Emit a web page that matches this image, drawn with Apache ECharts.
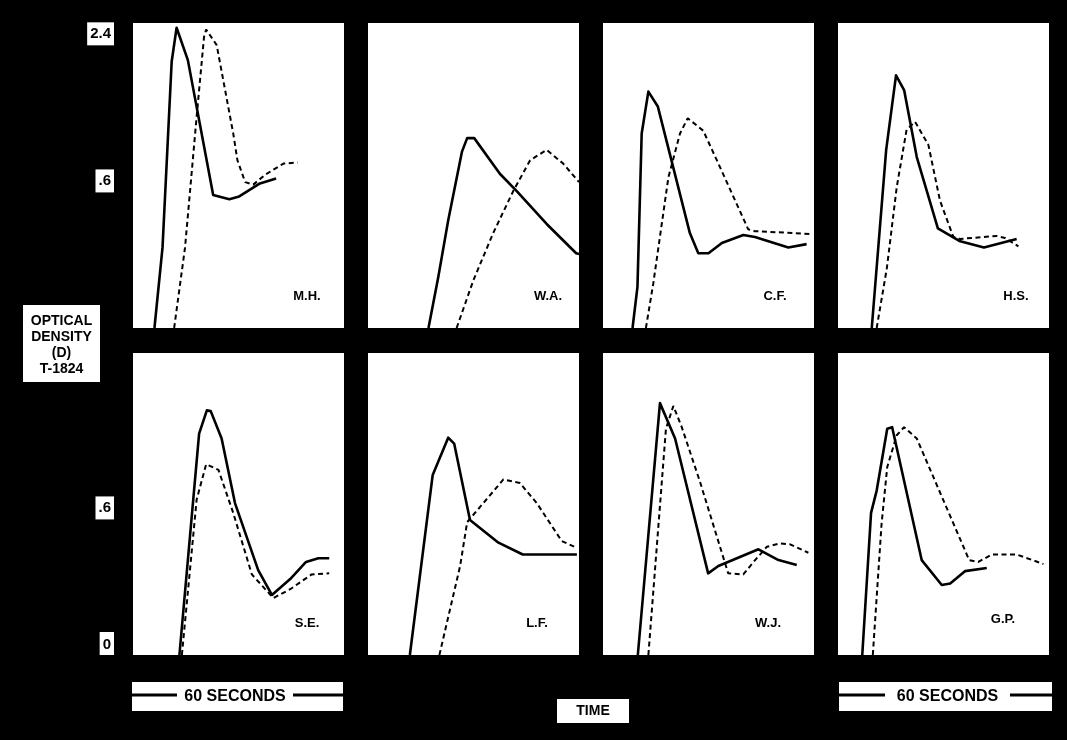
<!DOCTYPE html>
<html><head><meta charset="utf-8">
<script src="https://cdn.jsdelivr.net/npm/echarts@6/dist/echarts.min.js"></script>
<style>html,body{margin:0;padding:0;background:#000}#c{width:1067px;height:740px}</style>
</head><body><div id="c"></div>
<script>
// Time in seconds (each panel spans 60 s), optical density D
const panelNames = ['M.H.', 'W.A.', 'C.F.', 'H.S.', 'S.E.', 'L.F.', 'W.J.', 'G.P.'];

const mhSolid  = [[6.1,0],[8.4,0.18],[11.0,1.97],[12.4,2.50],[15.6,1.99],[22.8,0.49],[27.4,0.46],[30.2,0.48],[36.1,0.58],[40.7,0.62]];
const mhDashed = [[11.7,0],[14.8,0.18],[18.1,1.24],[20.2,2.35],[20.8,2.47],[23.8,2.22],[28.5,1.05],[29.7,0.78],[31.9,0.59],[34.2,0.57],[37.5,0.65],[42.8,0.75],[46.8,0.76]];
const waSolid  = [[17.2,0],[20.0,0.073],[22.8,0.32],[26.7,0.86],[28.2,1.00],[30.2,1.00],[37.5,0.66],[42.3,0.52],[50.8,0.30],[59.2,0.155],[60,0.152]];
const waDashed = [[25.2,0],[30.0,0.064],[35.6,0.25],[41.3,0.52],[46.1,0.78],[50.8,0.88],[55.5,0.75],[60,0.59]];
const cfSolid  = [[8.4,0],[9.8,0.047],[11.0,1.05],[12.9,1.55],[15.6,1.36],[24.7,0.25],[27.1,0.155],[30.0,0.155],[33.8,0.20],[39.9,0.24],[43.2,0.23],[52.7,0.18],[57.9,0.195]];
const cfDashed = [[12.2,0],[14.3,0.055],[18.6,0.63],[21.9,1.05],[24.1,1.22],[28.5,1.08],[32.8,0.75],[41.3,0.27],[43.2,0.26],[59.4,0.245]];
const hsSolid  = [[9.6,0],[13.7,0.88],[16.5,1.77],[18.8,1.57],[22.4,0.81],[28.4,0.275],[34.5,0.21],[41.5,0.18],[50.8,0.22]];
const hsDashed = [[11.0,0],[13.9,0.10],[16.7,0.55],[19.5,1.09],[21.9,1.18],[25.7,0.93],[29.0,0.45],[32.8,0.23],[34.7,0.22],[45.1,0.235],[47.5,0.225],[51.3,0.185]];
const seSolid  = [[13.2,0],[18.8,1.36],[21.0,1.66],[22.1,1.65],[25.2,1.30],[29.0,0.64],[35.6,0.20],[39.5,0.10],[44.7,0.16],[49.2,0.24],[52.7,0.26],[55.8,0.26]];
const seDashed = [[13.9,0],[18.1,0.67],[20.8,1.01],[24.3,0.95],[28.5,0.56],[33.8,0.18],[39.9,0.09],[44.7,0.12],[50.8,0.18],[55.8,0.185]];
const lfSolid  = [[11.9,0],[18.4,0.90],[22.8,1.31],[24.5,1.24],[29.0,0.505],[37.1,0.35],[44.0,0.28],[59.4,0.28]];
const lfDashed = [[20.3,0],[26.2,0.22],[28.2,0.49],[38.5,0.855],[43.2,0.82],[48.0,0.64],[55.1,0.36],[59.2,0.32]];
const wjSolid  = [[9.9,0],[16.2,1.76],[20.5,1.30],[29.9,0.185],[32.8,0.22],[44.2,0.31],[49.9,0.25],[55.1,0.225]];
const wjDashed = [[12.9,0],[17.9,1.42],[20.0,1.72],[22.4,1.44],[27.6,0.83],[35.6,0.185],[39.9,0.18],[42.8,0.24],[46.6,0.325],[50.3,0.345],[53.2,0.34],[58.4,0.29]];
const gpSolid  = [[6.9,0],[9.4,0.56],[11.0,0.75],[14.0,1.42],[15.4,1.44],[23.8,0.25],[29.5,0.136],[31.9,0.142],[36.1,0.195],[42.3,0.21]];
const gpDashed = [[9.9,0],[12.4,0.48],[14.0,0.98],[16.7,1.34],[18.8,1.44],[22.4,1.30],[37.3,0.25],[39.9,0.24],[43.7,0.28],[50.8,0.28],[58.4,0.23]];

const solidSeries  = [mhSolid, waSolid, cfSolid, hsSolid, seSolid, lfSolid, wjSolid, gpSolid];
const dashedSeries = [mhDashed, waDashed, cfDashed, hsDashed, seDashed, lfDashed, wjDashed, gpDashed];

// y tick labels (density scale is square-root spaced)
const tickValuesTop = [0.6, 2.4];
const tickLabelsTop = ['.6', '2.4'];
const tickValuesBottom = [0, 0.6];
const tickLabelsBottom = ['0', '.6'];
const timeMax = 60;
const densityMaxTop = 2.58;
const densityMaxBottom = 2.53;

const yLabel = ['OPTICAL', 'DENSITY', '(D)', 'T-1824'];
const timeBarText = '60 SECONDS';
const timeText = 'TIME';

// ---- layout ----
const FONT = '"Liberation Sans", Arial, sans-serif';
const gridLeft0 = 133, gridStep = 235, gridW = 211;
const rowTop = [23, 353], rowH = [305, 302];
const nameCenters = [[307,296],[548,296],[775,296],[1016,296],[307,623],[537,623],[768,623],[1003,619]];

const sq = d => Math.sqrt(d);
const grids = [], xAxes = [], yAxes = [], series = [];
for (let i = 0; i < 8; i++) {
  const row = i < 4 ? 0 : 1;
  grids.push({left: gridLeft0 + (i % 4) * gridStep, top: rowTop[row], width: gridW, height: rowH[row],
    show: true, backgroundColor: '#fff', borderWidth: 0});
  xAxes.push({gridIndex: i, type: 'value', min: 0, max: timeMax, show: false});
  const tv = row === 0 ? tickValuesTop : tickValuesBottom;
  const tl = row === 0 ? tickLabelsTop : tickLabelsBottom;
  const showLab = (i % 4) === 0;
  yAxes.push({gridIndex: i, type: 'value', min: 0, max: sq(row === 0 ? densityMaxTop : densityMaxBottom),
    axisLine: {show: false}, axisTick: {show: false}, splitLine: {show: false},
    axisLabel: {show: showLab, customValues: tv.map(sq), margin: 19,
      formatter: v => { for (let k = 0; k < tv.length; k++) if (Math.abs(sq(tv[k]) - v) < 1e-6) return tl[k]; return ''; },
      color: '#000', backgroundColor: '#fff', padding: [5, 3, 3, 3],
      fontFamily: FONT, fontWeight: 'bold', fontSize: 15,
      verticalAlignMinLabel: row === 1 ? 'bottom' : null}
  });
  series.push({type: 'line', xAxisIndex: i, yAxisIndex: i, showSymbol: false, silent: true,
    data: solidSeries[i].map(p => [p[0], sq(p[1])]),
    lineStyle: {color: '#000', width: 2.6, type: 'solid', join: 'round'}});
  series.push({type: 'line', xAxisIndex: i, yAxisIndex: i, showSymbol: false, silent: true,
    data: dashedSeries[i].map(p => [p[0], sq(p[1])]),
    lineStyle: {color: '#000', width: 2, type: [5, 3.5]}});
}

const graphic = [];
panelNames.forEach((n, i) => graphic.push({type: 'text', x: nameCenters[i][0], y: nameCenters[i][1],
  style: {text: n, fill: '#000', font: 'bold 13px ' + FONT, textAlign: 'center', textVerticalAlign: 'middle'}}));
// y title box
graphic.push({type: 'rect', shape: {x: 23, y: 305, width: 77, height: 77}, style: {fill: '#fff'}});
graphic.push({type: 'text', x: 61.5, y: 345, style: {text: yLabel.join('\n'), fill: '#000', font: 'bold 14px ' + FONT,
  textAlign: 'center', textVerticalAlign: 'middle', lineHeight: 16}});
// 60 seconds bars
function secBar(x0, x1, tx0, tx1) {
  graphic.push({type: 'rect', shape: {x: x0, y: 682, width: x1 - x0, height: 29}, style: {fill: '#fff'}});
  graphic.push({type: 'line', shape: {x1: x0, y1: 695, x2: tx0, y2: 695}, style: {stroke: '#000', lineWidth: 3}});
  graphic.push({type: 'line', shape: {x1: tx1, y1: 695, x2: x1, y2: 695}, style: {stroke: '#000', lineWidth: 3}});
  graphic.push({type: 'text', x: (tx0 + tx1) / 2, y: 697, style: {text: timeBarText, fill: '#000', font: 'bold 16px ' + FONT,
    textAlign: 'center', textVerticalAlign: 'middle'}});
}
secBar(132, 343, 177, 293);
secBar(839, 1052, 885, 1010);
graphic.push({type: 'rect', shape: {x: 557, y: 699, width: 72, height: 24}, style: {fill: '#fff'}});
graphic.push({type: 'text', x: 593, y: 711.5, style: {text: timeText, fill: '#000', font: 'bold 14px ' + FONT,
  textAlign: 'center', textVerticalAlign: 'middle'}});

const chart = echarts.init(document.getElementById('c'), null, {renderer: 'canvas'});
chart.setOption({backgroundColor: '#000', animation: false, grid: grids, xAxis: xAxes, yAxis: yAxes, series: series, graphic: graphic});
</script></body></html>
